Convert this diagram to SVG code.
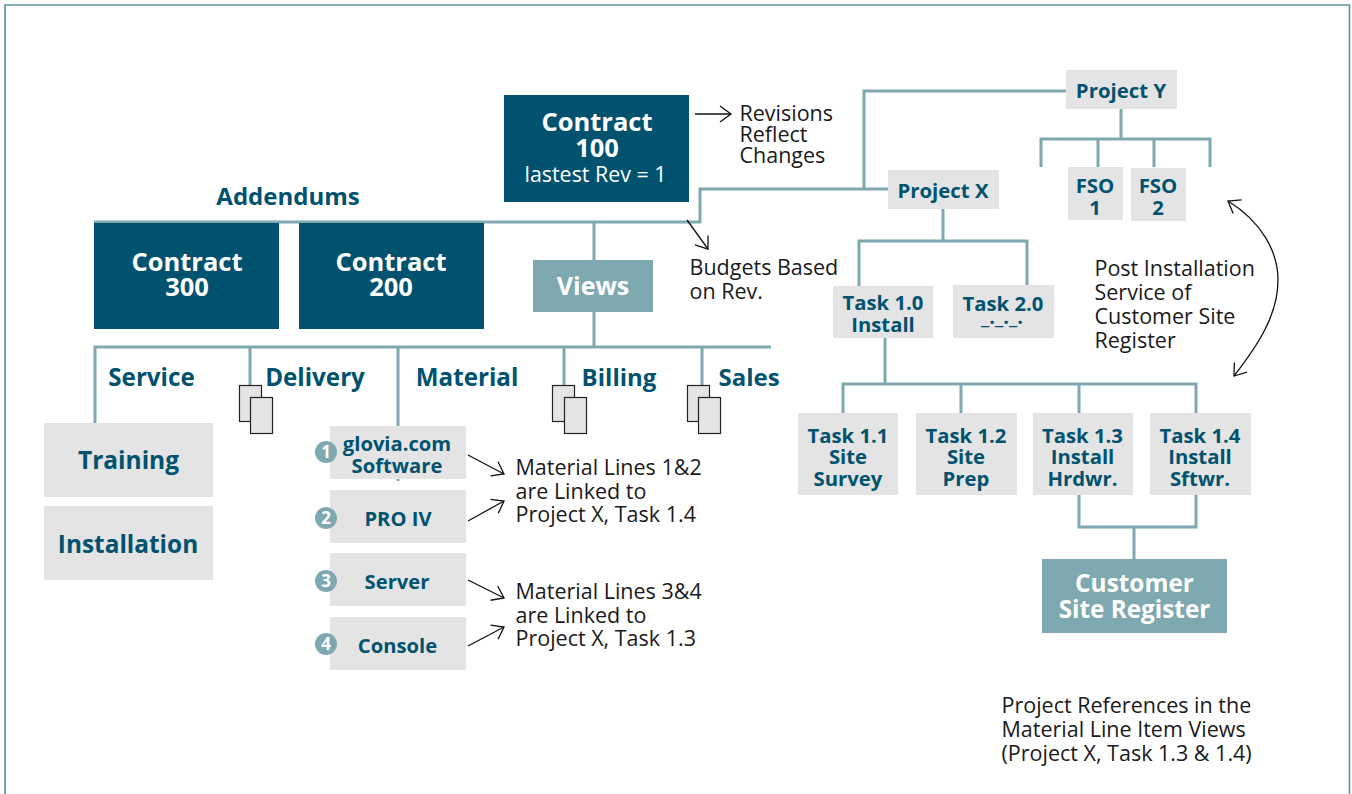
<svg xmlns="http://www.w3.org/2000/svg" width="1352" height="794" viewBox="0 0 1352 794">
<style>
text{font-family:"Open Sans","DejaVu Sans",sans-serif;text-anchor:middle}
.d{fill:#00526f}.g{fill:#e4e4e4}.t{fill:#7fa9b0}
.b{font-weight:700;fill:#00526f}
.w{font-weight:700;fill:#fff}
.n{fill:#1a1a1a;text-anchor:start;font-size:21.500px;transform:translate(-.5px,.5px)}
.c{fill:none;stroke:#7fa9b0;stroke-width:3}
.a{fill:none;stroke:#111;stroke-width:1.3;marker-end:url(#ah)}
.doc{fill:#e4e4e4;stroke:#222;stroke-width:1.2}
.num{font-weight:700;fill:#fff;font-size:17px}
</style>
<defs><marker id="ah" markerUnits="userSpaceOnUse" markerWidth="16" markerHeight="20" refX="13" refY="9" orient="auto" viewBox="0 0 16 18"><path d="M2 1 L13 9 L2 17" fill="none" stroke="#111" stroke-width="1.3"/></marker>
<marker id="ah2" markerUnits="userSpaceOnUse" markerWidth="16" markerHeight="20" refX="13" refY="9" orient="auto-start-reverse" viewBox="0 0 16 18"><path d="M2 1 L13 9 L2 17" fill="none" stroke="#111" stroke-width="1.3"/></marker></defs>
<rect x="0" y="0" width="1352" height="794" fill="#fff"/>
<path id="frame" d="M5 794V5H1349.500V794" fill="none" stroke="#5f949f" stroke-width="1.700"/>
<g id="connectors">
<path class="c" d="M94 222H700V189H888"/>
<path class="c" d="M864 189V91H1066"/>
<path class="c" d="M594 222V260"/>
<path class="c" d="M594 312V347"/>
<path class="c" d="M771 347H95V423"/>
<path class="c" d="M250 347V385M398 347V481M564 347V385M702 347V385"/>
<path class="c" d="M1121 109V139M1041 167V139H1210V167M1098 139V167M1154 139V167"/>
<path class="c" d="M943 209V241M859 286V241H1027V286"/>
<path class="c" d="M885 338V384M843 413V384H1196V413M961 384V413M1079 384V413"/>
<path class="c" d="M1079 495V527H1196V495M1134 527V559"/>
<path class="a" d="M695 114H731"/>
<path class="a" d="M687 220L708 249"/>
<path class="a" d="M1228 201C1262 222 1278 252 1278 280C1278 315 1258 345 1234 376" style="marker-start:url(#ah2)"/>
<path class="a" d="M468 455L504 474"/>
<path class="a" d="M468 521L504 501"/>
<path class="a" d="M468 580L504 598"/>
<path class="a" d="M468 646L504 627"/>
</g>
<g id="contract100"><rect class="d" x="504" y="95" width="185" height="107"/><text class="w" x="597" y="131" font-size="25.500">Contract</text><text class="w" x="597" y="157" font-size="25.500">100</text><text x="595.500" y="182" font-size="21.400" fill="#fff">lastest Rev = 1</text></g>
<g id="contract300"><rect class="d" x="94" y="223" width="185" height="106"/><text class="w" x="187" y="271" font-size="25.500">Contract</text><text class="w" x="187" y="296" font-size="25.500">300</text></g>
<g id="contract200"><rect class="d" x="299" y="223" width="185" height="106"/><text class="w" x="391" y="271" font-size="25.500">Contract</text><text class="w" x="391" y="296" font-size="25.500">200</text></g>
<g id="views"><rect class="t" x="533" y="260" width="120" height="52"/><text class="w" x="593" y="295" font-size="25">Views</text></g>
<g id="labels">
<text class="b" x="288" y="205" font-size="24">Addendums</text>
<text class="b" x="151.500" y="386" font-size="24.200">Service</text>
<text class="b" x="315" y="386" font-size="24.200">Delivery</text>
<text class="b" x="467" y="386" font-size="24.200">Material</text>
<text class="b" x="619" y="386" font-size="24">Billing</text>
<text class="b" x="749" y="386" font-size="24">Sales</text>
<text class="n" x="740" y="120">Revisions</text><text class="n" x="740" y="141">Reflect</text><text class="n" x="740" y="162">Changes</text>
<text class="n" x="690" y="274">Budgets Based</text><text class="n" x="690" y="298">on Rev.</text>
<text class="n" x="1095" y="275">Post Installation</text><text class="n" x="1095" y="299">Service of</text><text class="n" x="1095" y="323">Customer Site</text><text class="n" x="1095" y="347">Register</text>
<text class="n" x="516" y="474">Material Lines 1&amp;2</text><text class="n" x="516" y="498">are Linked to</text><text class="n" x="516" y="521">Project X, Task 1.4</text>
<text class="n" x="516" y="598">Material Lines 3&amp;4</text><text class="n" x="516" y="622">are Linked to</text><text class="n" x="516" y="645">Project X, Task 1.3</text>
<text class="n" x="1002" y="712">Project References in the</text><text class="n" x="1002" y="736">Material Line Item Views</text><text class="n" x="1002" y="760">(Project X, Task 1.3 &amp; 1.4)</text>
</g>
<g id="doc-delivery"><rect class="doc" x="239.500" y="385.500" width="22" height="36"/><rect class="doc" x="250.500" y="397.500" width="22" height="36"/></g>
<g id="doc-billing"><rect class="doc" x="552.500" y="385.500" width="22" height="36"/><rect class="doc" x="564.500" y="397.500" width="22" height="36"/></g>
<g id="doc-sales"><rect class="doc" x="687.500" y="385.500" width="22" height="36"/><rect class="doc" x="698.500" y="397.500" width="22" height="36"/></g>
<g id="training"><rect class="g" x="44" y="423" width="169" height="74"/><text class="b" x="128.500" y="469" font-size="24.500">Training</text></g>
<g id="installation"><rect class="g" x="44" y="506" width="169" height="74"/><text class="b" x="128" y="553" font-size="24.400">Installation</text></g>
<g id="software"><rect class="g" x="330" y="426" width="136" height="53"/><text class="b" x="397" y="451" font-size="20.200">glovia.com</text><text class="b" x="397" y="473" font-size="20.200">Software</text><circle class="t" cx="326" cy="452" r="11"/><text class="num" x="326" y="458">1</text></g>
<g id="proiv"><rect class="g" x="330" y="490" width="136" height="53"/><text class="b" x="398" y="526" font-size="20.200">PRO IV</text><circle class="t" cx="326" cy="518" r="11"/><text class="num" x="326" y="524">2</text></g>
<g id="server"><rect class="g" x="330" y="553" width="136" height="53"/><text class="b" x="397" y="589" font-size="20.200">Server</text><circle class="t" cx="326" cy="581" r="11"/><text class="num" x="326" y="587">3</text></g>
<g id="console"><rect class="g" x="330" y="617" width="136" height="53"/><text class="b" x="397.500" y="653" font-size="20.200">Console</text><circle class="t" cx="326" cy="644" r="11"/><text class="num" x="326" y="650">4</text></g>
<g id="projecty"><rect class="g" x="1066" y="70" width="111" height="39"/><text class="b" x="1121" y="98" font-size="20.400">Project Y</text></g>
<g id="projectx"><rect class="g" x="888" y="170" width="111" height="39"/><text class="b" x="943" y="198" font-size="20.400">Project X</text></g>
<g id="fso1"><rect class="g" x="1068" y="167" width="55" height="53"/><text class="b" x="1095" y="193" font-size="20.400">FSO</text><text class="b" x="1095" y="215" font-size="20.400">1</text></g>
<g id="fso2"><rect class="g" x="1131" y="168" width="55" height="53"/><text class="b" x="1158" y="193" font-size="20.400">FSO</text><text class="b" x="1158" y="215" font-size="20.400">2</text></g>
<g id="task10"><rect class="g" x="833" y="286" width="100" height="52"/><text class="b" x="883" y="310" font-size="20.300">Task 1.0</text><text class="b" x="883" y="332" font-size="20.300">Install</text></g>
<g id="task20"><rect class="g" x="953" y="285" width="101" height="53"/><text class="b" x="1003" y="311" font-size="20.300">Task 2.0</text><text class="b" x="1002" y="324" font-size="20">_._._.</text></g>
<g id="task11"><rect class="g" x="798" y="413" width="100" height="82"/><text class="b" x="848" y="443" font-size="20.300">Task 1.1</text><text class="b" x="848" y="464" font-size="20.300">Site</text><text class="b" x="848" y="486" font-size="20.300">Survey</text></g>
<g id="task12"><rect class="g" x="916" y="413" width="101" height="82"/><text class="b" x="966" y="443" font-size="20.300">Task 1.2</text><text class="b" x="966" y="464" font-size="20.300">Site</text><text class="b" x="966" y="486" font-size="20.300">Prep</text></g>
<g id="task13"><rect class="g" x="1033" y="413" width="100" height="82"/><text class="b" x="1082.500" y="443" font-size="20.300">Task 1.3</text><text class="b" x="1082.500" y="464" font-size="20.300">Install</text><text class="b" x="1082.500" y="486" font-size="20.300">Hrdwr.</text></g>
<g id="task14"><rect class="g" x="1150" y="413" width="101" height="82"/><text class="b" x="1200" y="443" font-size="20.300">Task 1.4</text><text class="b" x="1200" y="464" font-size="20.300">Install</text><text class="b" x="1200" y="486" font-size="20.300">Sftwr.</text></g>
<g id="register"><rect class="t" x="1042" y="559" width="185" height="74"/><text class="w" x="1134.500" y="592" font-size="24.400">Customer</text><text class="w" x="1134.500" y="618" font-size="24.300">Site Register</text></g>
</svg>
